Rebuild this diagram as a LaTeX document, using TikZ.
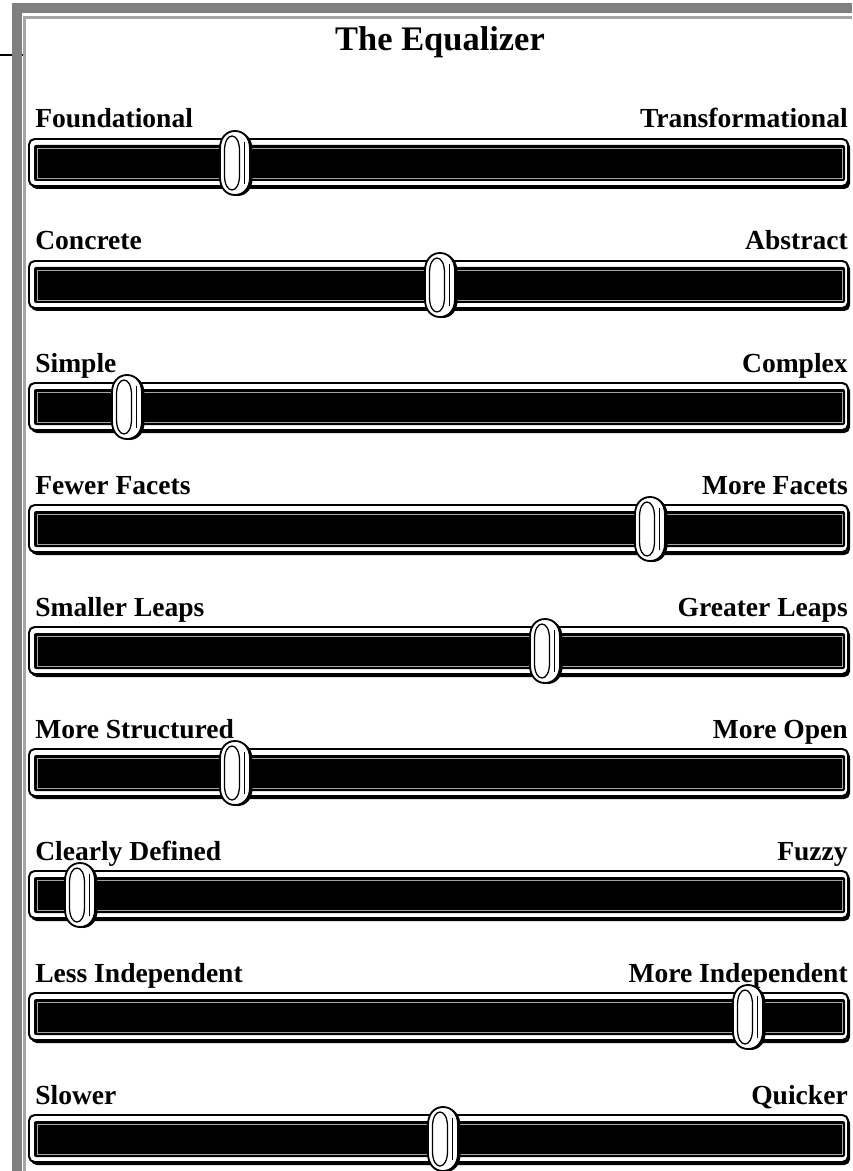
\documentclass[tikz,border=0pt]{standalone}
\usepackage{fontspec}
\setmainfont{Liberation Serif}
\usetikzlibrary{positioning}

\definecolor{framegray}{RGB}{128,128,128}
\definecolor{linegray}{RGB}{165,165,165}

% outline of a slider knob: centre x, half width, half height
\newcommand{\knobpath}[3]{(#1-#2,-0.45*#3) .. controls (#1-#2,-0.8*#3) and (#1-0.55*#2,-#3) .. (#1,-#3)
  .. controls (#1+0.55*#2,-#3) and (#1+#2,-0.8*#3) .. (#1+#2,-0.45*#3) -- (#1+#2,0.45*#3)
  .. controls (#1+#2,0.8*#3) and (#1+0.55*#2,#3) .. (#1,#3)
  .. controls (#1-0.55*#2,#3) and (#1-#2,0.8*#3) .. (#1-#2,0.45*#3) -- cycle}

\begin{document}
\begin{tikzpicture}[x=0.25mm, y=-0.25mm,
    every node/.style={font=\bfseries\fontsize{19.6}{22}\selectfont, inner sep=0pt},
    title/.style={font=\bfseries\fontsize{24.5}{28}\selectfont},
    trackbox/.style={draw=black, line width=1.4pt, fill=white, rounded corners=4pt},
    trackfill/.style={fill=black, rounded corners=1.5pt},
    trackline/.style={draw=linegray, line width=0.7pt},
    pics/knob/.style={code={
      \fill[black] [shift={(2.5,1)}] \knobpath{0}{15}{32};
      \draw[fill=white, line width=1.3pt] \knobpath{0}{15}{32};
      \draw[line width=0.9pt] \knobpath{-3}{7.5}{27};
      \draw[line width=1.1pt] (9.5,-21) -- (9.5,21);
    }}]
    \useasboundingbox (0,0) rectangle (852,1171);

    % frame
    \draw[line width=1pt] (0,55) -- (24,55);
    \fill[framegray] (12,3) rectangle (852,13);
    \fill[framegray] (12,3) rectangle (22,1171);
    \draw[linegray, line width=1.8pt] (24.7,1171) -- (24.7,17.5) -- (852,17.5);

    \node[title, anchor=base] (title) at (440,51) {The Equalizer};

    % sliders
    \foreach \lft/\rgt/\kx [count=\i] in {Foundational/Transformational/235,
        Concrete/Abstract/440, Simple/Complex/127, Fewer Facets/More Facets/650,
        Smaller Leaps/Greater Leaps/545, More Structured/More Open/235,
        Clearly Defined/Fuzzy/80, Less Independent/More Independent/748,
        Slower/Quicker/443} {
      \pgfmathsetmacro{\ty}{139+(\i-1)*122}
      \fill[black, rounded corners=4pt] (31,\ty+2) rectangle (850,\ty+50);
      \draw[trackbox] (29,\ty) rectangle (848,\ty+47);
      \fill[trackfill] (34,\ty+6) rectangle (845,\ty+42);
      \draw[trackline] (37,\ty+9) rectangle (842,\ty+39);
      \node[anchor=base west] (L\i) at (35,\ty-11) {\lft};
      \node[anchor=base east] (R\i) at (848,\ty-11) {\rgt};
      \pic (K\i) at (\kx,\ty+24) {knob};
    }
  \end{tikzpicture}
\end{document}
